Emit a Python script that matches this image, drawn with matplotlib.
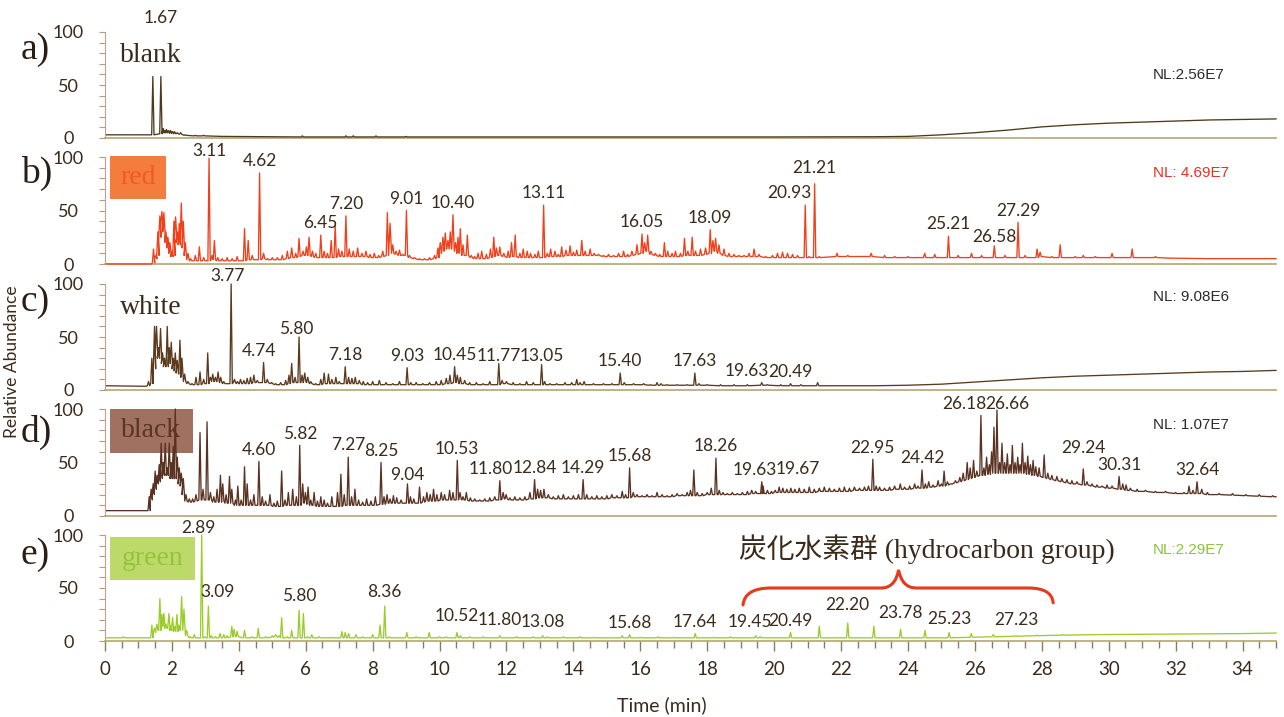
import numpy as np
import matplotlib.pyplot as plt
from matplotlib.path import Path
from matplotlib.patches import PathPatch, Rectangle
from matplotlib.ticker import MultipleLocator

# peaks: (retention time [min], apex [%], foot [%])
blank_peaks = [
    (1.43, 58, 3), (1.67, 58, 4), (1.74, 9, 5), (1.79, 7, 5), (1.84, 8, 5), (1.90, 7, 5), (1.96, 7, 4.5),
    (2.02, 6, 4.5), (2.08, 6, 4), (2.16, 5, 4), (2.26, 5, 3.5), (2.40, 3, 2.5), (2.70, 2.5, 2), (2.95, 2.5, 2),
    (5.90, 2, 1), (7.20, 2, 1), (7.42, 2, 1), (8.10, 2, 1), (9.00, 1.5, 1),
]
blank_base_t = [0.05, 1.38, 3.5, 6.5, 10, 15, 20, 23, 24, 25, 26, 27, 28, 29, 30, 31, 32, 33, 34, 35]
blank_base_v = [3, 3, 1.5, 1, 1, 1, 1, 1.2, 1.5, 3, 5, 7.5, 10.5, 12.5, 14, 15, 16, 17, 17.5, 18]
blank_labels = [1.67]

red_peaks = [
    (1.45, 14, 1), (1.52, 8, 5), (1.58, 30, 8), (1.64, 45, 25), (1.70, 49, 35), (1.76, 48, 30), (1.82, 30, 20),
    (1.88, 25, 15), (1.94, 20, 10), (2.00, 12, 7), (2.06, 40, 8), (2.11, 44, 25), (2.16, 30, 20), (2.22, 38, 18),
    (2.28, 57, 20), (2.34, 40, 15), (2.40, 20, 8), (2.48, 10, 4), (2.56, 5, 3), (2.70, 8, 3), (2.82, 16, 3),
    (2.95, 6, 3), (3.11, 99, 3), (3.20, 8, 4), (3.27, 22, 4), (3.37, 6, 3), (3.50, 5, 3), (3.65, 6, 3),
    (3.80, 5, 3), (3.95, 7, 3), (4.17, 33, 3), (4.28, 22, 4), (4.40, 8, 4), (4.62, 85, 4), (4.74, 10, 5),
    (4.86, 5, 4), (5.00, 6, 4), (5.15, 6, 4), (5.30, 8, 4), (5.45, 12, 5), (5.58, 15, 6), (5.70, 10, 6),
    (5.80, 24, 7), (5.92, 12, 8), (6.02, 16, 8), (6.10, 25, 8), (6.20, 12, 7), (6.30, 10, 6), (6.45, 27, 6),
    (6.55, 12, 6), (6.65, 10, 6), (6.76, 22, 6), (6.88, 36, 6), (6.98, 14, 7), (7.08, 12, 7), (7.20, 45, 7),
    (7.30, 14, 7), (7.42, 12, 7), (7.55, 15, 7), (7.68, 10, 7), (7.80, 12, 7), (7.92, 9, 6), (8.05, 10, 6),
    (8.18, 8, 6), (8.30, 12, 7), (8.44, 48, 8), (8.52, 38, 15), (8.60, 18, 10), (8.70, 12, 9), (8.80, 13, 8),
    (8.90, 9, 8), (9.01, 50, 8), (9.10, 8, 6), (9.25, 6, 5), (9.40, 5, 4), (9.55, 5, 4), (9.70, 6, 4),
    (9.85, 8, 5), (9.95, 15, 6), (10.02, 20, 10), (10.10, 25, 12), (10.17, 29, 14), (10.25, 22, 14),
    (10.32, 30, 14), (10.40, 46, 15), (10.48, 20, 12), (10.55, 25, 10), (10.62, 33, 10), (10.70, 18, 8),
    (10.83, 27, 8), (10.95, 8, 6), (11.05, 7, 5), (11.15, 10, 5), (11.26, 12, 5), (11.40, 9, 5), (11.52, 14, 6),
    (11.62, 25, 7), (11.70, 15, 8), (11.80, 16, 8), (11.92, 10, 7), (12.05, 12, 6), (12.15, 20, 7),
    (12.26, 27, 7), (12.40, 10, 6), (12.50, 14, 6), (12.62, 12, 6), (12.72, 10, 6), (12.85, 9, 6), (12.95, 12, 6),
    (13.11, 55, 6), (13.22, 10, 7), (13.32, 14, 7), (13.45, 12, 7), (13.55, 9, 7), (13.65, 16, 7), (13.78, 13, 8),
    (13.90, 17, 8), (14.00, 11, 8), (14.10, 13, 8), (14.25, 22, 8), (14.35, 12, 8), (14.50, 14, 8), (14.62, 10, 8),
    (14.75, 9, 8), (14.90, 8, 7), (15.05, 9, 7), (15.20, 8, 7), (15.35, 10, 7), (15.50, 12, 7), (15.62, 9, 7),
    (15.75, 12, 8), (15.90, 18, 9), (16.05, 28, 10), (16.13, 20, 12), (16.22, 27, 12), (16.32, 12, 9),
    (16.45, 10, 8), (16.58, 9, 7), (16.72, 20, 7), (16.82, 12, 7), (16.95, 10, 7), (17.05, 12, 7), (17.20, 10, 7),
    (17.32, 24, 8), (17.42, 12, 8), (17.55, 25, 8), (17.65, 12, 8), (17.80, 14, 8), (17.95, 15, 9), (18.09, 32, 10),
    (18.17, 22, 12), (18.25, 24, 12), (18.35, 18, 10), (18.50, 14, 8), (18.65, 10, 7), (18.80, 9, 7), (18.95, 8, 7),
    (19.10, 8, 7), (19.25, 10, 7), (19.40, 14, 7), (19.55, 9, 7), (19.75, 7, 6), (19.95, 8, 6), (20.10, 10, 6),
    (20.25, 11, 6), (20.40, 10, 6), (20.55, 9, 6), (20.70, 8, 6), (20.93, 55, 6), (21.05, 7, 6), (21.21, 75, 6),
    (21.35, 7, 6), (21.88, 10, 7), (22.20, 8, 7), (22.90, 10, 7), (23.30, 8, 6), (23.60, 7, 6), (24.00, 7, 6),
    (24.50, 10, 6), (24.80, 9, 6), (25.21, 26, 6), (25.50, 8, 6), (25.90, 10, 6), (26.20, 8, 6), (26.58, 17, 6),
    (26.90, 8, 6), (27.29, 39, 6), (27.50, 8, 6), (27.86, 14, 6), (27.95, 11, 7), (28.30, 7, 6), (28.55, 18, 6),
    (29.00, 7, 6), (29.24, 8, 6), (29.60, 7, 6), (30.10, 10, 6), (30.70, 14, 6), (31.40, 7, 6),
]
red_base_t = [0.05, 1.38, 31.8, 33.0, 34.0, 35.0]
red_base_v = [0, 0, 5.5, 5, 5, 5]
red_labels = [3.11, 4.62, 6.45, 7.20, 9.01, 10.40, 13.11, 16.05, 18.09, 20.93, 21.21, 25.21, 26.58, 27.29]

white_peaks = [
    (1.30, 8, 4), (1.40, 30, 6), (1.48, 60, 20), (1.54, 60, 35), (1.60, 40, 30), (1.66, 58, 30), (1.72, 35, 25),
    (1.78, 30, 22), (1.86, 60, 22), (1.92, 40, 25), (1.98, 45, 25), (2.04, 30, 20), (2.10, 35, 18), (2.16, 28, 16),
    (2.24, 47, 15), (2.30, 30, 12), (2.38, 15, 8), (2.48, 8, 6), (2.60, 6, 5), (2.72, 12, 5), (2.84, 17, 5),
    (2.95, 10, 6), (3.07, 35, 6), (3.15, 12, 8), (3.22, 15, 8), (3.30, 12, 8), (3.38, 17, 8), (3.46, 12, 7),
    (3.55, 8, 6), (3.77, 100, 6), (3.87, 10, 7), (3.96, 8, 6), (4.05, 10, 6), (4.15, 9, 6), (4.25, 11, 6),
    (4.35, 12, 6), (4.45, 14, 7), (4.55, 9, 7), (4.74, 26, 7), (4.85, 10, 7), (4.98, 7, 6), (5.10, 6, 5),
    (5.25, 7, 5), (5.40, 9, 5), (5.50, 14, 6), (5.58, 25, 7), (5.68, 12, 7), (5.80, 50, 7), (5.89, 14, 7),
    (5.97, 16, 8), (6.06, 12, 7), (6.15, 8, 6), (6.30, 6, 5), (6.45, 10, 5), (6.55, 16, 6), (6.68, 15, 6),
    (6.78, 10, 6), (6.90, 12, 6), (7.00, 8, 6), (7.18, 22, 6), (7.28, 12, 6), (7.38, 11, 6), (7.48, 12, 6),
    (7.60, 9, 6), (7.72, 8, 5), (7.85, 7, 5), (8.00, 8, 5), (8.20, 9, 5), (8.40, 7, 5), (8.60, 6, 5), (8.80, 8, 5),
    (9.03, 21, 5), (9.14, 7, 5), (9.30, 7, 5), (9.50, 6, 5), (9.70, 7, 5), (9.90, 8, 5), (10.05, 9, 5),
    (10.20, 11, 6), (10.31, 14, 6), (10.45, 22, 7), (10.53, 14, 7), (10.62, 12, 6), (10.75, 9, 6), (10.90, 7, 5),
    (11.10, 7, 5), (11.30, 6, 5), (11.50, 8, 5), (11.77, 25, 5), (11.87, 9, 6), (12.00, 8, 6), (12.20, 7, 5),
    (12.40, 6, 5), (12.60, 8, 5), (12.80, 7, 5), (13.05, 24, 5), (13.14, 8, 5), (13.30, 6, 5), (13.50, 6, 5),
    (13.75, 7, 5), (13.95, 7, 5), (14.10, 10, 5), (14.20, 7, 5), (14.32, 8, 5), (14.60, 6, 5), (14.90, 6, 5),
    (15.15, 6, 5), (15.40, 16, 5), (15.52, 7, 5), (15.80, 6, 5), (16.10, 6, 5), (16.30, 5, 4.5), (16.50, 7, 4.5),
    (16.62, 6, 4.5), (16.80, 5, 4.5), (17.10, 5, 4.5), (17.40, 5, 4.5), (17.63, 16, 4.5), (17.75, 6, 4.5),
    (18.00, 5, 4.5), (18.40, 5, 4), (18.80, 5, 4), (19.20, 5, 4), (19.63, 7, 4.5), (19.80, 5, 4.5), (20.20, 5, 4),
    (20.49, 6, 4), (20.80, 5, 4), (21.30, 7, 4),
]
white_base_t = [0.05, 1.22, 21.6, 23, 24, 25, 26, 27, 28, 29, 30, 31, 32, 33, 34, 35]
white_base_v = [4, 3.5, 4, 4, 4.5, 5.5, 7.5, 9.5, 11.5, 13, 14, 15, 16, 17, 17.5, 18.5]
white_labels = [3.77, 4.74, 5.80, 7.18, 9.03, 10.45, 11.77, 13.05, 15.40, 17.63, 19.63, 20.49]

black_peaks = [
    (1.32, 18, 5), (1.38, 25, 15), (1.44, 30, 20), (1.50, 42, 25), (1.56, 38, 30), (1.62, 48, 32), (1.68, 68, 35),
    (1.74, 50, 38), (1.80, 68, 40), (1.86, 45, 38), (1.92, 68, 38), (1.98, 50, 35), (2.04, 65, 35), (2.10, 100, 35),
    (2.16, 55, 35), (2.22, 45, 30), (2.28, 40, 28), (2.34, 35, 20), (2.42, 20, 14), (2.52, 16, 13), (2.62, 16, 13),
    (2.72, 20, 14), (2.84, 78, 15), (2.93, 25, 15), (3.05, 88, 15), (3.15, 22, 15), (3.25, 18, 13), (3.35, 25, 13),
    (3.45, 38, 13), (3.52, 30, 14), (3.62, 20, 12), (3.72, 37, 12), (3.79, 25, 12), (3.90, 15, 10), (3.97, 28, 10),
    (4.07, 15, 10), (4.17, 46, 10), (4.25, 30, 10), (4.35, 15, 10), (4.45, 20, 10), (4.60, 51, 10), (4.70, 18, 10),
    (4.80, 14, 10), (4.93, 20, 10), (5.05, 12, 9), (5.15, 14, 9), (5.28, 42, 9), (5.38, 15, 10), (5.48, 22, 10),
    (5.61, 25, 10), (5.72, 18, 10), (5.82, 66, 10), (5.91, 30, 12), (5.99, 22, 12), (6.07, 27, 11), (6.15, 15, 10),
    (6.25, 22, 10), (6.35, 14, 9), (6.45, 18, 9), (6.55, 15, 9), (6.65, 12, 9), (6.78, 18, 9), (6.95, 22, 9),
    (7.05, 39, 9), (7.15, 20, 10), (7.27, 55, 10), (7.37, 18, 10), (7.47, 25, 10), (7.58, 15, 10), (7.70, 13, 10),
    (7.82, 16, 10), (7.95, 14, 10), (8.08, 18, 10), (8.25, 50, 11), (8.34, 18, 11), (8.43, 20, 12), (8.52, 16, 12),
    (8.62, 19, 12), (8.72, 17, 12), (8.85, 15, 12), (9.04, 30, 12), (9.13, 18, 12), (9.23, 16, 12), (9.40, 27, 12),
    (9.52, 18, 13), (9.62, 22, 14), (9.72, 20, 14), (9.82, 25, 14), (9.92, 20, 14), (10.05, 22, 15), (10.15, 20, 15),
    (10.30, 24, 15), (10.40, 22, 15), (10.53, 52, 15), (10.61, 22, 16), (10.70, 18, 15), (10.80, 22, 15),
    (10.92, 17, 14), (11.05, 16, 14), (11.20, 15, 14), (11.35, 16, 14), (11.50, 17, 14), (11.65, 18, 15),
    (11.80, 33, 15), (11.90, 22, 16), (11.99, 20, 16), (12.10, 17, 15), (12.25, 18, 15), (12.40, 17, 15),
    (12.55, 18, 15), (12.70, 22, 16), (12.84, 34, 16), (12.93, 25, 17), (13.02, 24, 17), (13.12, 25, 17),
    (13.25, 20, 17), (13.40, 18, 16), (13.55, 19, 16), (13.70, 20, 16), (13.85, 18, 16), (14.00, 19, 16),
    (14.15, 20, 16), (14.29, 34, 16), (14.40, 20, 16), (14.55, 18, 16), (14.70, 19, 16), (14.85, 18, 16),
    (15.00, 19, 16), (15.15, 20, 17), (15.30, 19, 17), (15.46, 23, 17), (15.56, 20, 17), (15.68, 45, 17),
    (15.79, 22, 18), (15.90, 20, 18), (16.05, 19, 18), (16.20, 20, 18), (16.35, 19, 18), (16.50, 22, 18),
    (16.65, 20, 18), (16.80, 19, 18), (16.95, 20, 18), (17.10, 21, 19), (17.25, 20, 19), (17.40, 22, 19),
    (17.50, 24, 19), (17.60, 43, 19), (17.70, 22, 19), (17.85, 21, 19), (18.00, 22, 20), (18.12, 26, 20),
    (18.26, 54, 20), (18.36, 24, 20), (18.47, 22, 20), (18.60, 21, 20), (18.75, 22, 20), (18.90, 21, 20),
    (19.05, 22, 20), (19.20, 23, 20), (19.33, 24, 21), (19.45, 23, 21), (19.63, 32, 21), (19.67, 28, 21),
    (19.80, 24, 21), (19.92, 23, 21), (20.03, 24, 22), (20.15, 27, 22), (20.26, 26, 22), (20.38, 25, 22),
    (20.50, 26, 22), (20.62, 25, 22), (20.75, 26, 22), (20.90, 25, 22), (21.05, 27, 22), (21.20, 25, 22),
    (21.35, 26, 23), (21.50, 27, 23), (21.65, 26, 23), (21.80, 25, 23), (21.95, 26, 23), (22.10, 27, 23),
    (22.25, 26, 23), (22.40, 27, 24), (22.55, 26, 24), (22.70, 27, 24), (22.82, 28, 24), (22.95, 53, 24),
    (23.05, 28, 24), (23.15, 27, 24), (23.30, 26, 24), (23.45, 27, 24), (23.60, 28, 25), (23.77, 30, 25),
    (23.90, 27, 25), (24.05, 28, 25), (24.20, 30, 26), (24.30, 28, 26), (24.42, 43, 26), (24.52, 30, 26),
    (24.62, 32, 27), (24.75, 29, 27), (24.90, 33, 28), (25.00, 30, 28), (25.08, 42, 28), (25.18, 32, 29),
    (25.30, 30, 30), (25.42, 33, 31), (25.55, 36, 32), (25.65, 40, 33), (25.77, 50, 34), (25.86, 45, 35),
    (25.96, 52, 36), (26.06, 42, 37), (26.18, 94, 38), (26.27, 45, 38), (26.35, 55, 39), (26.43, 48, 39),
    (26.50, 60, 40), (26.57, 83, 40), (26.66, 99, 40), (26.74, 50, 40), (26.81, 68, 40), (26.89, 50, 40),
    (26.97, 58, 40), (27.05, 48, 40), (27.12, 66, 40), (27.20, 50, 40), (27.28, 55, 40), (27.35, 48, 40),
    (27.42, 68, 40), (27.50, 50, 40), (27.58, 56, 39), (27.66, 48, 39), (27.74, 52, 38), (27.82, 46, 38),
    (27.92, 45, 37), (28.07, 57, 36), (28.18, 40, 35), (28.30, 38, 34), (28.45, 37, 33), (28.60, 35, 32),
    (28.75, 34, 31), (28.90, 33, 30), (29.05, 32, 30), (29.24, 44, 29), (29.35, 32, 29), (29.50, 30, 28),
    (29.65, 29, 27), (29.80, 28, 27), (29.95, 29, 26), (30.10, 28, 26), (30.31, 37, 25), (30.42, 30, 25),
    (30.52, 29, 24), (30.65, 26, 24), (30.85, 25, 23), (31.10, 24, 23), (31.40, 23, 22), (31.70, 23, 22),
    (32.00, 22, 21), (32.25, 22, 21), (32.40, 28, 21), (32.52, 24, 21), (32.64, 32, 21), (32.78, 25, 21),
    (32.95, 22, 20), (33.30, 21, 20), (33.70, 21, 19.5), (34.10, 20, 19), (34.50, 20, 18.5), (34.90, 19, 18),
]
black_base_t = [0.05, 1.26, 35.0]
black_base_v = [5, 5, 18]
black_labels = [4.60, 5.82, 7.27, 8.25, 9.04, 10.53, 11.80, 12.84, 14.29, 15.68, 18.26, 19.63, 19.67,
                22.95, 24.42, 26.18, 26.66, 29.24, 30.31, 32.64]

green_peaks = [
    (0.55, 4, 3), (1.40, 15, 3), (1.48, 12, 8), (1.55, 16, 10), (1.64, 40, 10), (1.70, 25, 14), (1.76, 26, 14),
    (1.82, 16, 12), (1.91, 26, 12), (1.97, 14, 10), (2.02, 22, 10), (2.08, 14, 9), (2.15, 25, 9), (2.21, 15, 10),
    (2.29, 42, 12), (2.36, 30, 10), (2.44, 10, 5), (2.55, 4, 3), (2.67, 6, 3), (2.89, 100, 3), (2.98, 4, 3),
    (3.09, 33, 3), (3.18, 5, 3), (3.30, 4, 3), (3.44, 7, 3), (3.55, 6, 3), (3.65, 5, 3), (3.79, 14, 4),
    (3.86, 11, 5), (3.95, 9, 4), (4.17, 10, 3), (4.40, 4, 3), (4.58, 12, 3), (4.80, 4, 3), (5.00, 5, 3.5),
    (5.10, 6, 4), (5.20, 5, 3.5), (5.28, 22, 3), (5.45, 4, 3), (5.58, 10, 3), (5.80, 29, 3), (5.93, 26, 3),
    (6.05, 4, 3), (6.18, 6, 3), (6.40, 4, 3), (6.80, 3.5, 3), (7.08, 9, 3), (7.18, 8, 3), (7.28, 7, 3),
    (7.50, 6, 3), (7.70, 4, 3), (8.00, 6, 3), (8.22, 15, 3), (8.36, 33, 3), (8.50, 4, 3), (9.02, 8, 3),
    (9.30, 4, 3), (9.69, 8, 3), (10.00, 4, 3), (10.20, 4, 3), (10.52, 8, 3), (10.62, 5, 3), (10.90, 4, 3),
    (11.30, 4, 3), (11.80, 5, 3), (12.30, 4, 3), (12.80, 4, 3), (13.08, 5, 3), (13.22, 4, 3), (13.70, 4, 3),
    (14.20, 4, 3), (14.60, 3.5, 3), (15.46, 5, 3), (15.68, 6, 3), (16.00, 3.5, 3), (16.53, 4, 3), (17.00, 3.5, 3),
    (17.64, 7, 3), (18.20, 3.5, 3), (18.70, 4, 3), (19.45, 5, 3), (19.58, 4, 3), (20.49, 8, 3), (21.35, 14, 3),
    (22.20, 17, 3), (22.98, 14, 3), (23.78, 11, 3), (24.51, 10, 3), (25.23, 8, 3), (25.89, 7, 3.5), (26.55, 6, 4),
    (27.23, 5, 4.5), (27.86, 5.5, 5), (28.60, 6, 5.5),
]
green_base_t = [0.05, 1.35, 29.5, 31, 32.5, 34, 35]
green_base_v = [3, 3, 6, 6.3, 6.6, 7, 7.5]
green_labels = [2.89, 3.09, 5.80, 8.36, 10.52, 11.80, 13.08, 15.68, 17.64, 19.45, 20.49, 22.20, 23.78, 25.23, 27.23]

samples = ['blank', 'red', 'white', 'black', 'green']
nl_values = ['NL:2.56E7', 'NL: 4.69E7', 'NL: 9.08E6', 'NL: 1.07E7', 'NL:2.29E7']
group_text = '炭化水素群 (hydrocarbon group)'
brace_from, brace_tip, brace_to = 19.07, 23.72, 28.34

# label shifts (dx in min, dy in %) where a label sits off its peak
label_shift = [
    {1.67: (0, 44)},
    {3.11: (0, -4), 20.93: (-0.48, 0), 21.21: (0, 4), 26.58: (0, -3)},
    {3.77: (-0.1, -3), 4.74: (-0.14, 0), 5.80: (-0.1, -3), 11.77: (0, -4), 13.05: (0, -3), 19.63: (-0.45, 0)},
    {9.04: (0, -3), 11.80: (-0.28, 0), 19.63: (-0.2, 0), 19.67: (1.05, 5), 26.18: (-0.5, 0),
     26.66: (0.3, -5), 29.24: (0, 9)},
    {2.89: (-0.1, -6), 3.09: (0.27, 0), 10.52: (0, 3), 11.80: (0, 2), 15.68: (0, -2), 17.64: (0, -2),
     19.45: (-0.17, 0), 20.49: (0, -2), 22.20: (0, 4), 23.78: (0, 2), 27.23: (0, 2)},
]


def build_trace(peaks, base_t, base_v, half=0.035):
    segs = [(t, [(t, v)]) for t, v in zip(base_t, base_v)]
    for t, top, foot in peaks:
        segs.append((t, [(t - half, foot), (t, top), (t + half, foot)]))
    segs.sort(key=lambda s: s[0])
    xy = np.array([p for _, pts in segs for p in pts])
    return xy[:, 0], xy[:, 1]


panels = [
    (blank_peaks, blank_base_t, blank_base_v, blank_labels),
    (red_peaks, red_base_t, red_base_v, red_labels),
    (white_peaks, white_base_t, white_base_v, white_labels),
    (black_peaks, black_base_t, black_base_v, black_labels),
    (green_peaks, green_base_t, green_base_v, green_labels),
]

W, H = 1284, 717
ink = '#3b2a1a'
line_cols = ['#4d3b1c', '#f0401a', '#5c3a1e', '#5a3222', '#9ccc2a']
nl_cols = ['#2b2b2b', '#e8321e', '#2b2b2b', '#2b2b2b', '#8cc43c']
# (facecolor, textcolor, box width in axes fraction, box bottom, box top)
name_box = [None, ('#f47c3c', '#f25a22', 0.048, 0.607, 1.01), None,
            ('#a07060', '#5a3525', 0.0705, 0.589, 1.0), ('#bcd96a', '#94c43c', 0.0725, 0.575, 0.98)]
panel_px = [(138, 32), (264, 157), (390, 284), (516, 409), (641, 535)]
label_off = [11, 11, 11, 11, 13]

fig = plt.figure(figsize=(W / 100, H / 100), dpi=100)
fig.patch.set_facecolor('white')

axes = []
for i, (peaks, bt, bv, labels) in enumerate(panels):
    y0, y1 = panel_px[i]
    ax = fig.add_axes([105 / W, 1 - y0 / H, 1171 / W, (y0 - y1) / H])
    axes.append(ax)
    x, y = build_trace(peaks, bt, bv)
    ax.plot(x, y, color=line_cols[i], lw=0.95, zorder=3, clip_on=False)
    ax.set_xlim(0, 35)
    ax.set_ylim(0, 100)

    for s in ['top', 'right']:
        ax.spines[s].set_visible(False)
    ax.spines['left'].set_color('#c8a08a')
    ax.spines['bottom'].set_color('#b5a572')
    ax.spines['bottom'].set_linewidth(1.2)

    ax.yaxis.set_major_locator(MultipleLocator(50))
    ax.yaxis.set_minor_locator(MultipleLocator(10))
    ax.tick_params(axis='y', which='both', length=4.5, width=0.8, color='#b89a88',
                   labelsize=13, labelcolor=ink, pad=22)
    for lab in ax.get_yticklabels():
        lab.set_fontfamily('Lato')
        lab.set_ha('center')

    # peak retention-time labels
    pt = np.array([p[0] for p in peaks])
    for v in labels:
        k = int(np.argmin(np.abs(pt - v)))
        dx, dy = label_shift[i].get(v, (0, 0))
        ax.text(pt[k] + dx, peaks[k][1] + label_off[i] + dy, f'{v:.2f}', ha='center', va='center',
                fontsize=12.5, family='Lato', color=ink, zorder=4, clip_on=False)

    # sample name
    if name_box[i] is None:
        ax.text(0.013, 0.78, samples[i], transform=ax.transAxes, ha='left', va='center',
                fontsize=20, family='Liberation Serif', color=ink)
    else:
        fc, tc, bw, b0, b1 = name_box[i]
        ax.add_patch(Rectangle((0.0043, b0), bw, b1 - b0, transform=ax.transAxes,
                               facecolor=fc, edgecolor='none', zorder=1, clip_on=False))
        ax.text(0.0043 + bw / 2, (b0 + b1) / 2, samples[i], transform=ax.transAxes, ha='center',
                va='center', fontsize=20, family='Liberation Serif', color=tc, zorder=2)

    fig.text(1153 / W, 1 - [75, 173, 297, 425, 550][i] / H, nl_values[i], ha='left', va='center',
             fontsize=11, family='Liberation Sans', color=nl_cols[i])
    fig.text(21 / W, 1 - [50, 173, 302, 432, 555][i] / H, 'abcde'[i] + ')', ha='left', va='center',
             fontsize=27, family='Liberation Serif', color='#2a1e14')

    if i < 4:
        ax.set_xticks([])

ax = axes[-1]
ax.xaxis.set_major_locator(MultipleLocator(2))
ax.xaxis.set_minor_locator(MultipleLocator(0.5))
ax.tick_params(axis='x', which='major', length=7.5, width=1, color='#8a7a60',
               labelsize=13.5, labelcolor=ink, pad=7)
ax.tick_params(axis='x', which='minor', length=5, width=1, color='#8a7a60')
for lab in ax.get_xticklabels():
    lab.set_fontfamily('Lato')

# brace over the hydrocarbon peaks
verts = [(brace_from, 34), (brace_from + 0.05, 50), (brace_from + 0.83, 50),
         (brace_tip - 0.52, 50), (brace_tip - 0.1, 50), (brace_tip, 67),
         (brace_tip + 0.1, 50), (brace_tip + 0.53, 50),
         (brace_to - 0.74, 50), (brace_to - 0.04, 50), (brace_to, 36)]
codes = [Path.MOVETO, Path.CURVE3, Path.CURVE3, Path.LINETO, Path.CURVE3, Path.CURVE3,
         Path.CURVE3, Path.CURVE3, Path.LINETO, Path.CURVE3, Path.CURVE3]
ax.add_patch(PathPatch(Path(verts, codes), facecolor='none', edgecolor='#e8381e', lw=2.2,
                       capstyle='round', clip_on=False, zorder=5))
ax.text((brace_from + brace_to) / 2 + 0.85, 87, group_text, ha='center', va='center', fontsize=20,
        family=['Liberation Serif', 'Noto Sans CJK JP'], color=ink, clip_on=False)

fig.text(12 / W, 1 - 362 / H, 'Relative Abundance', rotation=90, ha='center', va='center',
         fontsize=12.5, family='Lato', color=ink)
fig.text(662 / W, 1 - 705 / H, 'Time (min)', ha='center', va='center', fontsize=14,
         family='Lato', color=ink)

fig.savefig('out.png', dpi=100)
